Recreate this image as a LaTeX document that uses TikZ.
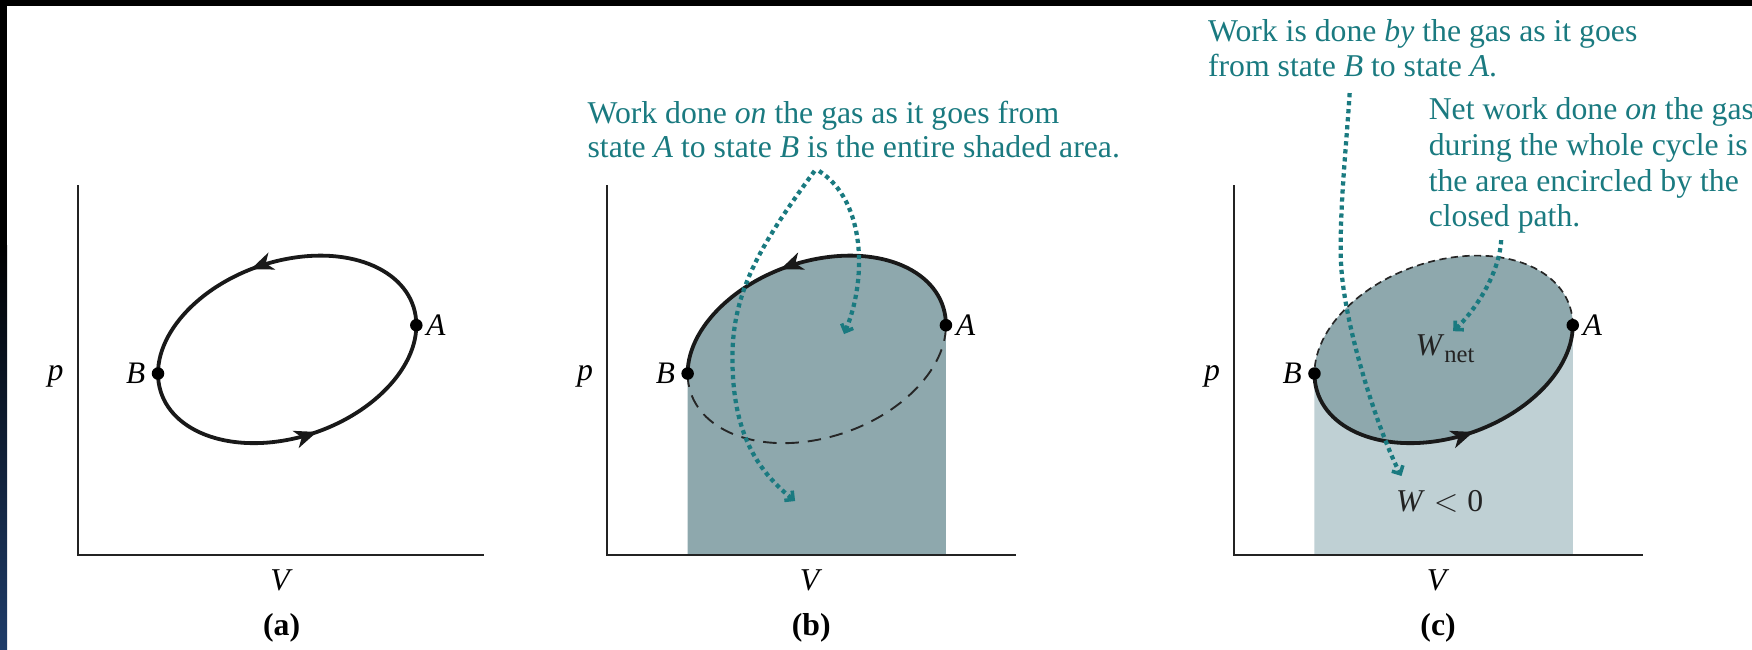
\documentclass[tikz,border=0pt]{standalone}
\usepackage{fontspec}
\setmainfont{Liberation Serif}
\usetikzlibrary{arrows.meta,decorations.markings}
\definecolor{tealtxt}{RGB}{26,122,128}
\definecolor{shadedark}{RGB}{142,168,173}
\definecolor{shadelight}{RGB}{191,208,212}
\definecolor{inkgray}{RGB}{35,35,35}
\tikzset{
  axisline/.style={line width=0.9pt, draw=inkgray},
  cyclecurve/.style={line width=1.7pt, draw=black!90},
  dashlow/.style={line width=0.85pt, draw=black!85, dash pattern=on 6pt off 4pt},
  dashtop/.style={line width=0.75pt, draw=black!85, dash pattern=on 3.2pt off 2pt},
  dotarrow/.style={draw=tealtxt, line width=1.9pt, dash pattern=on 1.9pt off 1.7pt, -{Straight Barb[length=2.8pt,width=5.6pt,line width=1.6pt]}},
  ptdot/.style={circle, fill=black, inner sep=0pt, minimum size=5.6pt},
  statelbl/.style={inner sep=0pt, font=\fontsize{14}{15.7}\selectfont\itshape},
  notetext/.style={text=tealtxt, inner sep=0pt, anchor=base west},
  arrowmid/.style={postaction={decorate}, decoration={markings, mark=at position #1 with {\arrow{Stealth[length=10pt,width=8pt,inset=2.8pt]}}}},
}
\begin{document}
\begin{tikzpicture}[x=0.5pt, y=0.5pt, font=\fontsize{14.2}{15.7}\selectfont]
\useasboundingbox (0,0) rectangle (1568,-581);
% frame strips
\fill[black] (0,0) rectangle (1568,-5.5);
\fill[black] (0,0) rectangle (6.3,-220);
\shade[top color=black, bottom color={rgb,255:red,30;green,60;blue,105}] (0,-220) rectangle (6.3,-581);

% ---------------- panel (a)
\begin{scope}
  \coordinate (Oa) at (69.5,-497);
  \coordinate (Ya) at (69.5,-166);
  \coordinate (Xa) at (433,-497);
  \draw[axisline] (Ya) -- (Oa) -- (Xa);
  \node (pa) at (49.7,-337) {\textit{p}};
  \node (Va) at (252,-519.5) {\textit{V}};
  \node (capa) at (252,-562) {\textbf{(a)}};
  \begin{scope}[shift={(257,-312.7)}, rotate=19.17]
    \coordinate (Aa) at (-12.9:119.3 and 78.55);
    \coordinate (Ba) at (167.1:119.3 and 78.55);
    \draw[cyclecurve, arrowmid=0.58] (Aa) arc[start angle=-12.9, end angle=167.1, x radius=119.3, y radius=78.55];
    \draw[cyclecurve, arrowmid=0.56] (Ba) arc[start angle=167.1, end angle=347.1, x radius=119.3, y radius=78.55];
  \end{scope}
  \node[ptdot] (dAa) at (Aa) {};
  \node[ptdot] (dBa) at (Ba) {};
  \node[statelbl, anchor=west] (lAa) at ([xshift=4.3pt]Aa) {A};
  \node[statelbl, anchor=east] (lBa) at ([xshift=-5.5pt]Ba) {B};
\end{scope}

% ---------------- panel (b)
\begin{scope}[shift={(474,0)}]
  \coordinate (Ob) at (69.5,-497);
  \coordinate (Yb) at (69.5,-166);
  \coordinate (Xb) at (435,-497);
  \coordinate (Bfb) at (141.4,-497);
  \coordinate (Afb) at (372.6,-497);
  \fill[shadedark] plot[domain=-12.9:167.1, samples=90, variable=\t] ({257+112.68*cos(\t)-25.80*sin(\t)}, {-312.7+39.18*cos(\t)+74.19*sin(\t)}) -- (Bfb) -- (Afb) -- cycle;
  \begin{scope}[shift={(257,-312.7)}, rotate=19.17]
    \coordinate (Ab) at (-12.9:119.3 and 78.55);
    \coordinate (Bb) at (167.1:119.3 and 78.55);
    \draw[cyclecurve, arrowmid=0.58] (Ab) arc[start angle=-12.9, end angle=167.1, x radius=119.3, y radius=78.55];
    \draw[dashlow] (Bb) arc[start angle=167.1, end angle=347.1, x radius=119.3, y radius=78.55];
  \end{scope}
  \draw[axisline] (Yb) -- (Ob) -- (Xb);
  \node (pb) at (49.7,-337) {\textit{p}};
  \node (Vb) at (252,-519.5) {\textit{V}};
  \node (capb) at (252,-562) {\textbf{(b)}};
  \node[ptdot] (dAb) at (Ab) {};
  \node[ptdot] (dBb) at (Bb) {};
  \node[statelbl, anchor=west] (lAb) at ([xshift=4.3pt]Ab) {A};
  \node[statelbl, anchor=east] (lBb) at ([xshift=-5.5pt]Bb) {B};
\end{scope}

% ---------------- panel (c)
\begin{scope}[shift={(1035,0)}]
  \coordinate (Oc) at (69.5,-497);
  \coordinate (Yc) at (69.5,-166);
  \coordinate (Xc) at (435,-497);
  \coordinate (Bfc) at (141.4,-497);
  \coordinate (Afc) at (372.6,-497);
  \fill[shadelight] plot[domain=-12.9:167.1, samples=90, variable=\t] ({257+112.68*cos(\t)-25.80*sin(\t)}, {-312.7+39.18*cos(\t)+74.19*sin(\t)}) -- (Bfc) -- (Afc) -- cycle;
  \begin{scope}[shift={(257,-312.7)}, rotate=19.17]
    \coordinate (Ac) at (-12.9:119.3 and 78.55);
    \coordinate (Bc) at (167.1:119.3 and 78.55);
    \fill[shadedark] (0,0) ellipse[x radius=119.3, y radius=78.55];
    \draw[dashtop] (Ac) arc[start angle=-12.9, end angle=167.1, x radius=119.3, y radius=78.55];
    \draw[cyclecurve, arrowmid=0.56] (Bc) arc[start angle=167.1, end angle=347.1, x radius=119.3, y radius=78.55];
  \end{scope}
  \draw[axisline] (Yc) -- (Oc) -- (Xc);
  \node (pc) at (49.7,-337) {\textit{p}};
  \node (Vc) at (252,-519.5) {\textit{V}};
  \node (capc) at (252,-562) {\textbf{(c)}};
  \node[ptdot] (dAc) at (Ac) {};
  \node[ptdot] (dBc) at (Bc) {};
  \node[statelbl, anchor=west] (lAc) at ([xshift=4.3pt]Ac) {A};
  \node[statelbl, anchor=east] (lBc) at ([xshift=-5.5pt]Bc) {B};
\end{scope}

% ---------------- notes
\node[notetext] (nb1) at (525.5,-110.6) {Work done \textit{on} the gas as it goes from};
\node[notetext] (nb2) at (525.5,-141.4) {state \textit{A} to state \textit{B} is the entire shaded area.};
\node[notetext] (nc1) at (1080.8,-37) {Work is done \textit{by} the gas as it goes};
\node[notetext] (nc2) at (1080.8,-68.5) {from state \textit{B} to state \textit{A}.};
\node[notetext] (nd1) at (1278.3,-107.4) {Net work done \textit{on} the gas};
\node[notetext] (nd2) at (1278.3,-139) {during the whole cycle is};
\node[notetext] (nd3) at (1278.3,-171) {the area encircled by the};
\node[notetext] (nd4) at (1278.3,-203) {closed path.};

\node[inner sep=0pt, anchor=base west, text=inkgray] (wnet) at (1266.5,-318.6) {\textit{W}\raisebox{-0.45ex}{\fontsize{11}{11}\selectfont net}};
\node[inner sep=0pt, anchor=base west, text=inkgray] (wneg) at (1249,-457.5) {\textit{W}\hspace{4pt}$<$\hspace{4pt}0};

% ---------------- dotted pointers
\coordinate (sb1) at (729,-153);
\coordinate (mb1) at (655.5,-320);
\coordinate (eb1) at (711.6,-448.4);
\draw[dotarrow] (sb1) .. controls (681.5,-218) and (655.5,-260) .. (mb1) .. controls (655.5,-380) and (672.5,-417.2) .. (eb1);
\coordinate (sb2) at (733,-153);
\coordinate (eb2) at (755.4,-299);
\draw[dotarrow] (sb2) .. controls (775,-180) and (776,-250) .. (eb2);
\coordinate (sc1) at (1207.9,-83.3);
\coordinate (mc1) at (1200,-230);
\coordinate (ec1) at (1254.3,-426);
\draw[dotarrow] (sc1) .. controls (1205,-130) and (1199,-185) .. (mc1) .. controls (1201,-290) and (1236.2,-392.2) .. (ec1);
\coordinate (sc2) at (1343.5,-214.9);
\coordinate (ec2) at (1300.5,-296.4);
\draw[dotarrow] (sc2) .. controls (1342,-245) and (1319.7,-278.5) .. (ec2);
\end{tikzpicture}
\end{document}
